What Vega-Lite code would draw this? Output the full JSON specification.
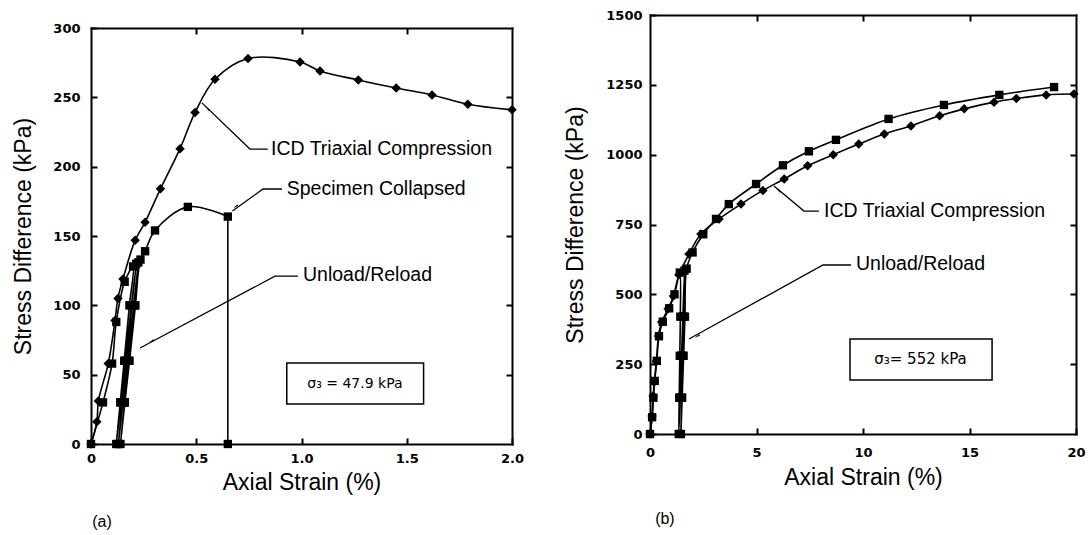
{
  "$schema": "https://vega.github.io/schema/vega-lite/v6.json",
  "background": "white",
  "padding": {"left": 12, "top": 9, "right": 5, "bottom": 2},
  "datasets": {
    "a": [
      {"s":"ICD","i":1,"x":0,"y":0},{"s":"ICD","i":2,"x":0.028,"y":16},{"s":"ICD","i":3,"x":0.035,"y":31},{"s":"ICD","i":4,"x":0.082,"y":58},{"s":"ICD","i":5,"x":0.114,"y":89},{"s":"ICD","i":6,"x":0.128,"y":105},{"s":"ICD","i":7,"x":0.152,"y":119},{"s":"ICD","i":8,"x":0.21,"y":147},{"s":"ICD","i":9,"x":0.257,"y":160},{"s":"ICD","i":10,"x":0.33,"y":184},{"s":"ICD","i":11,"x":0.423,"y":213},{"s":"ICD","i":12,"x":0.494,"y":239},{"s":"ICD","i":13,"x":0.589,"y":263},{"s":"ICD","i":14,"x":0.746,"y":278},{"s":"ICD","i":15,"x":0.993,"y":275.5},{"s":"ICD","i":16,"x":1.088,"y":269},{"s":"ICD","i":17,"x":1.27,"y":262.5},{"s":"ICD","i":18,"x":1.45,"y":256.7},{"s":"ICD","i":19,"x":1.62,"y":251.7},{"s":"ICD","i":20,"x":1.79,"y":245},{"s":"ICD","i":21,"x":2.0,"y":241},
      {"s":"UR","i":1,"x":0,"y":0},{"s":"UR","i":2,"x":0.057,"y":30},{"s":"UR","i":3,"x":0.1,"y":58},{"s":"UR","i":4,"x":0.12,"y":88},{"s":"UR","i":5,"x":0.16,"y":117},{"s":"UR","i":6,"x":0.2,"y":128},
      {"s":"UR","i":7,"x":0.1825,"y":100},{"s":"UR","i":8,"x":0.1575,"y":60},{"s":"UR","i":9,"x":0.139,"y":30},{"s":"UR","i":10,"x":0.12,"y":0},
      {"s":"UR","i":11,"x":0.142,"y":30},{"s":"UR","i":12,"x":0.163,"y":60},{"s":"UR","i":13,"x":0.192,"y":100},{"s":"UR","i":14,"x":0.215,"y":130},
      {"s":"UR","i":15,"x":0.194,"y":100},{"s":"UR","i":16,"x":0.169,"y":60},{"s":"UR","i":17,"x":0.149,"y":30},{"s":"UR","i":18,"x":0.13,"y":0},
      {"s":"UR","i":19,"x":0.152,"y":30},{"s":"UR","i":20,"x":0.174,"y":60},{"s":"UR","i":21,"x":0.203,"y":100},{"s":"UR","i":22,"x":0.225,"y":131},
      {"s":"UR","i":23,"x":0.205,"y":100},{"s":"UR","i":24,"x":0.179,"y":60},{"s":"UR","i":25,"x":0.16,"y":30},{"s":"UR","i":26,"x":0.14,"y":0},
      {"s":"UR","i":27,"x":0.161,"y":30},{"s":"UR","i":28,"x":0.183,"y":60},{"s":"UR","i":29,"x":0.211,"y":100},{"s":"UR","i":30,"x":0.235,"y":133},
      {"s":"UR","i":31,"x":0.257,"y":139},{"s":"UR","i":32,"x":0.304,"y":154},{"s":"UR","i":33,"x":0.46,"y":171},{"s":"UR","i":34,"x":0.65,"y":164},{"s":"UR","i":35,"x":0.65,"y":0}
    ],
    "b": [
      {"s":"ICD","i":1,"x":0,"y":0},{"s":"ICD","i":2,"x":0.1,"y":64},{"s":"ICD","i":3,"x":0.15,"y":136},{"s":"ICD","i":4,"x":0.2,"y":186},{"s":"ICD","i":5,"x":0.3,"y":260},{"s":"ICD","i":6,"x":0.4,"y":351},{"s":"ICD","i":7,"x":0.55,"y":401},{"s":"ICD","i":8,"x":0.85,"y":448},{"s":"ICD","i":9,"x":1.1,"y":494},{"s":"ICD","i":10,"x":1.36,"y":570},{"s":"ICD","i":11,"x":1.83,"y":644},{"s":"ICD","i":12,"x":2.39,"y":716},{"s":"ICD","i":13,"x":3.24,"y":770},{"s":"ICD","i":14,"x":4.27,"y":823},{"s":"ICD","i":15,"x":5.3,"y":872},{"s":"ICD","i":16,"x":6.3,"y":913},{"s":"ICD","i":17,"x":7.4,"y":960},{"s":"ICD","i":18,"x":8.6,"y":1000},{"s":"ICD","i":19,"x":9.8,"y":1038},{"s":"ICD","i":20,"x":11.0,"y":1074},{"s":"ICD","i":21,"x":12.25,"y":1103},{"s":"ICD","i":22,"x":13.6,"y":1139},{"s":"ICD","i":23,"x":14.75,"y":1164},{"s":"ICD","i":24,"x":16.15,"y":1188},{"s":"ICD","i":25,"x":17.2,"y":1201},{"s":"ICD","i":26,"x":18.6,"y":1214},{"s":"ICD","i":27,"x":19.9,"y":1217},
      {"s":"UR","i":1,"x":0,"y":0},{"s":"UR","i":2,"x":0.1,"y":60},{"s":"UR","i":3,"x":0.16,"y":130},{"s":"UR","i":4,"x":0.22,"y":190},{"s":"UR","i":5,"x":0.32,"y":262},{"s":"UR","i":6,"x":0.42,"y":350},{"s":"UR","i":7,"x":0.6,"y":402},{"s":"UR","i":8,"x":0.9,"y":450},{"s":"UR","i":9,"x":1.15,"y":500},{"s":"UR","i":10,"x":1.4,"y":578},
      {"s":"UR","i":11,"x":1.423,"y":420},{"s":"UR","i":12,"x":1.398,"y":280},{"s":"UR","i":13,"x":1.372,"y":130},{"s":"UR","i":14,"x":1.35,"y":0},
      {"s":"UR","i":15,"x":1.41,"y":130},{"s":"UR","i":16,"x":1.479,"y":280},{"s":"UR","i":17,"x":1.544,"y":420},{"s":"UR","i":18,"x":1.62,"y":585},
      {"s":"UR","i":19,"x":1.572,"y":420},{"s":"UR","i":20,"x":1.531,"y":280},{"s":"UR","i":21,"x":1.488,"y":130},{"s":"UR","i":22,"x":1.45,"y":0},
      {"s":"UR","i":23,"x":1.509,"y":130},{"s":"UR","i":24,"x":1.578,"y":280},{"s":"UR","i":25,"x":1.642,"y":420},{"s":"UR","i":26,"x":1.72,"y":592},
      {"s":"UR","i":27,"x":2.0,"y":650},{"s":"UR","i":28,"x":2.5,"y":715},{"s":"UR","i":29,"x":3.1,"y":770},{"s":"UR","i":30,"x":3.7,"y":823},{"s":"UR","i":31,"x":4.98,"y":895},{"s":"UR","i":32,"x":6.24,"y":962},{"s":"UR","i":33,"x":7.46,"y":1012},{"s":"UR","i":34,"x":8.73,"y":1053},{"s":"UR","i":35,"x":11.2,"y":1128},{"s":"UR","i":36,"x":13.8,"y":1178},{"s":"UR","i":37,"x":16.4,"y":1214},{"s":"UR","i":38,"x":18.97,"y":1242}
    ],
    "leadA": [
      {"g":1,"i":1,"x":0.527,"y":246},{"g":1,"i":2,"x":0.755,"y":212.7},{"g":1,"i":3,"x":0.84,"y":212.7},
      {"g":2,"i":1,"x":0.672,"y":168},{"g":2,"i":2,"x":0.817,"y":183.9},{"g":2,"i":3,"x":0.907,"y":183.9},
      {"g":3,"i":1,"x":0.233,"y":69.2},{"g":3,"i":2,"x":0.874,"y":121},{"g":3,"i":3,"x":0.983,"y":121}
    ],
    "leadB": [
      {"g":1,"i":1,"x":5.82,"y":888},{"g":1,"i":2,"x":7.23,"y":798},{"g":1,"i":3,"x":7.93,"y":798},
      {"g":2,"i":1,"x":1.83,"y":340},{"g":2,"i":2,"x":8.12,"y":605},{"g":2,"i":3,"x":9.44,"y":605}
    ]
  },
  "config": {
    "view": {"stroke": null},
    "axis": {
      "domainColor": "black", "domainWidth": 2, "domainCap": "square",
      "tickColor": "black", "tickWidth": 2, "tickSize": -6,
      "labelFont": "DejaVu Sans", "labelFontSize": 13, "labelFontWeight": "bold", "labelColor": "black",
      "titleFont": "Liberation Sans", "titleFontSize": 23, "titleFontWeight": "normal", "titleColor": "black",
      "grid": false, "labelFlush": false, "labelOverlap": false
    }
  },
  "spacing": 40,
  "hconcat": [
    {
      "spacing": 0,
      "vconcat": [
        {"width": 421, "height": 3, "data": {"values": [{}]}, "mark": {"type": "text", "text": ""}, "encoding": {}},
        {
          "width": 421, "height": 416,
          "resolve": {"axis": {"x": "independent", "y": "independent"}},
          "layer": [
            {
              "data": {"name": "a"},
              "transform": [{"filter": "datum.s == 'ICD'"}],
              "mark": {"type": "line", "color": "black", "strokeWidth": 1.6, "interpolate": "catmull-rom"},
              "encoding": {
                "x": {"field": "x", "type": "quantitative", "scale": {"domain": [0, 2], "nice": false, "zero": false},
                      "axis": {"orient": "bottom", "values": [0, 0.5, 1, 1.5, 2], "labelExpr": "datum.value == 0 ? '0' : format(datum.value, '.1f')", "title": "Axial Strain (%)", "labelPadding": 14, "titlePadding": 6}},
                "y": {"field": "y", "type": "quantitative", "scale": {"domain": [0, 300], "nice": false},
                      "axis": {"orient": "left", "values": [0, 50, 100, 150, 200, 250, 300], "title": "Stress Difference (kPa)", "labelPadding": 17, "titlePadding": 17}},
                "order": {"field": "i", "type": "quantitative"}
              }
            },
            {
              "data": {"name": "a"},
              "transform": [{"filter": "datum.s == 'UR' && datum.i <= 34"}],
              "mark": {"type": "line", "color": "black", "strokeWidth": 1.6, "interpolate": "catmull-rom"},
              "encoding": {
                "x": {"field": "x", "type": "quantitative", "axis": null},
                "y": {"field": "y", "type": "quantitative", "axis": null},
                "order": {"field": "i", "type": "quantitative"}
              }
            },
            {
              "data": {"name": "a"},
              "transform": [{"filter": "datum.s == 'UR' && datum.i >= 34"}],
              "mark": {"type": "line", "color": "black", "strokeWidth": 1.6},
              "encoding": {
                "x": {"field": "x", "type": "quantitative", "axis": null},
                "y": {"field": "y", "type": "quantitative", "axis": null},
                "order": {"field": "i", "type": "quantitative"}
              }
            },
            {
              "data": {"name": "a"},
              "mark": {"type": "point", "filled": true, "color": "black", "opacity": 1},
              "encoding": {
                "x": {"field": "x", "type": "quantitative", "scale": {"domain": [0, 2], "nice": false, "zero": false},
                      "axis": {"orient": "top", "values": [0.5, 1, 1.5], "labels": false, "title": null}},
                "y": {"field": "y", "type": "quantitative", "scale": {"domain": [0, 300], "nice": false},
                      "axis": {"orient": "right", "values": [50, 100, 150, 200, 250], "labels": false, "title": null}},
                "shape": {"field": "s", "type": "nominal", "scale": {"domain": ["ICD", "UR"], "range": ["diamond", "square"]}, "legend": null},
                "size": {"field": "s", "type": "nominal", "scale": {"domain": ["ICD", "UR"], "range": [90, 70]}, "legend": null}
              }
            },
            {
              "data": {"name": "leadA"},
              "mark": {"type": "line", "color": "black", "strokeWidth": 1.3},
              "encoding": {
                "x": {"field": "x", "type": "quantitative", "axis": null},
                "y": {"field": "y", "type": "quantitative", "axis": null},
                "detail": {"field": "g"},
                "order": {"field": "i", "type": "quantitative"}
              }
            },
            {"data": {"values": [{}]}, "mark": {"type": "point", "shape": "wedge", "filled": true, "color": "black", "opacity": 1, "size": 45, "angle": 315},
             "encoding": {"x": {"datum": 0.556, "type": "quantitative", "axis": null}, "y": {"datum": 241.6, "type": "quantitative", "axis": null}}},
            {"data": {"values": [{}]}, "mark": {"type": "point", "shape": "wedge", "filled": true, "color": "black", "opacity": 1, "size": 45, "angle": 237},
             "encoding": {"x": {"datum": 0.69, "type": "quantitative", "axis": null}, "y": {"datum": 171.5, "type": "quantitative", "axis": null}}},
            {"data": {"values": [{}]}, "mark": {"type": "point", "shape": "wedge", "filled": true, "color": "black", "opacity": 1, "size": 45, "angle": 242},
             "encoding": {"x": {"datum": 0.29, "type": "quantitative", "axis": null}, "y": {"datum": 74.3, "type": "quantitative", "axis": null}}},
            {"data": {"values": [{}]}, "mark": {"type": "text", "text": "ICD Triaxial Compression", "align": "left", "baseline": "middle", "font": "Liberation Sans", "fontSize": 19.5, "color": "black"},
             "encoding": {"x": {"datum": 0.855, "type": "quantitative", "axis": null}, "y": {"datum": 212.7, "type": "quantitative", "axis": null}}},
            {"data": {"values": [{}]}, "mark": {"type": "text", "text": "Specimen Collapsed", "align": "left", "baseline": "middle", "font": "Liberation Sans", "fontSize": 19.5, "color": "black"},
             "encoding": {"x": {"datum": 0.93, "type": "quantitative", "axis": null}, "y": {"datum": 183.9, "type": "quantitative", "axis": null}}},
            {"data": {"values": [{}]}, "mark": {"type": "text", "text": "Unload/Reload", "align": "left", "baseline": "middle", "font": "Liberation Sans", "fontSize": 19.5, "color": "black"},
             "encoding": {"x": {"datum": 1.007, "type": "quantitative", "axis": null}, "y": {"datum": 122, "type": "quantitative", "axis": null}}},
            {"data": {"values": [{}]}, "mark": {"type": "rect", "fill": "white", "stroke": "black", "strokeWidth": 1.5},
             "encoding": {"x": {"datum": 0.93, "type": "quantitative", "axis": null}, "x2": {"datum": 1.58}, "y": {"datum": 58.4, "type": "quantitative", "axis": null}, "y2": {"datum": 28.8}}},
            {"data": {"values": [{}]}, "mark": {"type": "text", "text": "σ₃ = 47.9 kPa", "align": "center", "baseline": "middle", "font": "DejaVu Sans", "fontSize": 14, "color": "black"},
             "encoding": {"x": {"datum": 1.254, "type": "quantitative", "axis": null}, "y": {"datum": 43.6, "type": "quantitative", "axis": null}}},
            {"data": {"values": [{}]}, "mark": {"type": "text", "text": "(a)", "align": "center", "baseline": "middle", "font": "Liberation Sans", "fontSize": 16, "color": "black"},
             "encoding": {"x": {"datum": 0.052, "type": "quantitative", "axis": null}, "y": {"datum": -56, "type": "quantitative", "axis": null}}}
          ]
        }
      ]
    },
    {
      "width": 426, "height": 419,
      "resolve": {"axis": {"x": "independent", "y": "independent"}},
      "layer": [
        {
          "data": {"name": "b"},
          "mark": {"type": "line", "color": "black", "strokeWidth": 1.6, "interpolate": "catmull-rom"},
          "encoding": {
            "x": {"field": "x", "type": "quantitative", "scale": {"domain": [0, 20], "nice": false, "zero": false},
                  "axis": {"orient": "bottom", "values": [0, 5, 10, 15, 20], "format": "d", "title": "Axial Strain (%)", "labelPadding": 18, "titlePadding": 7}},
            "y": {"field": "y", "type": "quantitative", "scale": {"domain": [0, 1500], "nice": false},
                  "axis": {"orient": "left", "values": [0, 250, 500, 750, 1000, 1250, 1500], "format": "d", "title": "Stress Difference (kPa)", "labelPadding": 14, "titlePadding": 18}},
            "detail": {"field": "s"},
            "order": {"field": "i", "type": "quantitative"}
          }
        },
        {
          "data": {"name": "b"},
          "mark": {"type": "point", "filled": true, "color": "black", "opacity": 1},
          "encoding": {
            "x": {"field": "x", "type": "quantitative", "scale": {"domain": [0, 20], "nice": false, "zero": false},
                  "axis": {"orient": "top", "values": [5, 10, 15], "labels": false, "title": null}},
            "y": {"field": "y", "type": "quantitative", "scale": {"domain": [0, 1500], "nice": false},
                  "axis": {"orient": "right", "values": [250, 500, 750, 1000, 1250], "labels": false, "title": null}},
            "shape": {"field": "s", "type": "nominal", "scale": {"domain": ["ICD", "UR"], "range": ["diamond", "square"]}, "legend": null},
            "size": {"field": "s", "type": "nominal", "scale": {"domain": ["ICD", "UR"], "range": [90, 70]}, "legend": null}
          }
        },
        {
          "data": {"name": "leadB"},
          "mark": {"type": "line", "color": "black", "strokeWidth": 1.3},
          "encoding": {
            "x": {"field": "x", "type": "quantitative", "axis": null},
            "y": {"field": "y", "type": "quantitative", "axis": null},
            "detail": {"field": "g"},
            "order": {"field": "i", "type": "quantitative"}
          }
        },
        {"data": {"values": [{}]}, "mark": {"type": "point", "shape": "wedge", "filled": true, "color": "black", "opacity": 1, "size": 45, "angle": 309},
         "encoding": {"x": {"datum": 6.06, "type": "quantitative", "axis": null}, "y": {"datum": 870, "type": "quantitative", "axis": null}}},
        {"data": {"values": [{}]}, "mark": {"type": "point", "shape": "wedge", "filled": true, "color": "black", "opacity": 1, "size": 45, "angle": 241},
         "encoding": {"x": {"datum": 2.25, "type": "quantitative", "axis": null}, "y": {"datum": 351, "type": "quantitative", "axis": null}}},
        {"data": {"values": [{}]}, "mark": {"type": "text", "text": "ICD Triaxial Compression", "align": "left", "baseline": "middle", "font": "Liberation Sans", "fontSize": 19.5, "color": "black"},
         "encoding": {"x": {"datum": 8.17, "type": "quantitative", "axis": null}, "y": {"datum": 798, "type": "quantitative", "axis": null}}},
        {"data": {"values": [{}]}, "mark": {"type": "text", "text": "Unload/Reload", "align": "left", "baseline": "middle", "font": "Liberation Sans", "fontSize": 19.5, "color": "black"},
         "encoding": {"x": {"datum": 9.67, "type": "quantitative", "axis": null}, "y": {"datum": 608, "type": "quantitative", "axis": null}}},
        {"data": {"values": [{}]}, "mark": {"type": "rect", "fill": "white", "stroke": "black", "strokeWidth": 1.5},
         "encoding": {"x": {"datum": 9.39, "type": "quantitative", "axis": null}, "x2": {"datum": 16.06}, "y": {"datum": 340, "type": "quantitative", "axis": null}, "y2": {"datum": 193}}},
        {"data": {"values": [{}]}, "mark": {"type": "text", "text": "σ₃= 552 kPa", "align": "center", "baseline": "middle", "font": "DejaVu Sans", "fontSize": 15, "color": "black"},
         "encoding": {"x": {"datum": 12.7, "type": "quantitative", "axis": null}, "y": {"datum": 268, "type": "quantitative", "axis": null}}},
        {"data": {"values": [{}]}, "mark": {"type": "text", "text": "(b)", "align": "center", "baseline": "middle", "font": "Liberation Sans", "fontSize": 16, "color": "black"},
         "encoding": {"x": {"datum": 0.7, "type": "quantitative", "axis": null}, "y": {"datum": -304, "type": "quantitative", "axis": null}}}
      ]
    }
  ]
}
